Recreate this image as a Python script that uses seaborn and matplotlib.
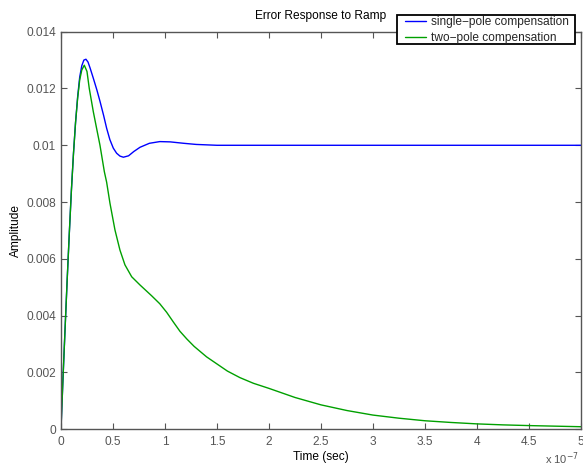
import matplotlib
matplotlib.use("Agg")
import matplotlib.pyplot as plt
from matplotlib.patches import Rectangle
import numpy as np
import pandas as pd
import seaborn as sns

# Time axis in units of 1e-7 s, amplitude in units of 1e-3
t_single = [0, 0.02, 0.04, 0.06, 0.08, 0.10, 0.12, 0.14, 0.16, 0.18, 0.20, 0.22,
            0.24, 0.26, 0.28, 0.311, 0.345, 0.375, 0.41, 0.439, 0.47, 0.503,
            0.535, 0.567, 0.60, 0.65, 0.70, 0.76, 0.85, 0.95, 1.05, 1.18, 1.30,
            1.50, 2.0, 2.5, 3.0, 3.5, 4.0, 4.5, 5.0]
y_single = [0, 1.85, 3.6, 5.3, 6.9, 8.4, 9.7, 10.8, 11.7, 12.4, 12.8, 13.0,
            13.03, 12.93, 12.72, 12.36, 11.95, 11.55, 11.05, 10.6, 10.2, 9.9,
            9.72, 9.62, 9.58, 9.63, 9.78, 9.93, 10.07, 10.13, 10.12, 10.07, 10.03,
            10.0, 10.0, 10.0, 10.0, 10.0, 10.0, 10.0, 10.0]

t_two = [0, 0.02, 0.04, 0.06, 0.08, 0.10, 0.12, 0.14, 0.16, 0.18, 0.20, 0.224,
         0.25, 0.272, 0.311, 0.345, 0.375, 0.417, 0.439, 0.471, 0.519, 0.567,
         0.615, 0.68, 0.76, 0.872, 0.95, 1.016, 1.08, 1.144, 1.21, 1.28, 1.40,
         1.50, 1.60, 1.72, 1.85, 2.0, 2.25, 2.5, 2.75, 3.0, 3.25, 3.5, 3.75,
         4.0, 4.25, 4.5, 4.75, 5.0]
y_two = [0, 1.85, 3.6, 5.3, 6.9, 8.4, 9.7, 10.8, 11.65, 12.3, 12.65, 12.82,
         12.6, 12.0, 11.18, 10.55, 10.0, 9.07, 8.7, 7.96, 7.02, 6.31,
         5.79, 5.37, 5.08, 4.7, 4.42, 4.12, 3.78, 3.45, 3.18, 2.92, 2.55,
         2.3, 2.05, 1.82, 1.62, 1.44, 1.12, 0.86, 0.66, 0.50, 0.39, 0.30, 0.24,
         0.19, 0.155, 0.13, 0.11, 0.09]

series_names = ["single\u2212pole compensation", "two\u2212pole compensation"]
series_colors = ["#0000ff", "#00a000"]

x_ticks = [0, 0.5, 1, 1.5, 2, 2.5, 3, 3.5, 4, 4.5, 5]
y_ticks = [0, 0.002, 0.004, 0.006, 0.008, 0.010, 0.012, 0.014]

df = pd.concat([
    pd.DataFrame({"t": t_single, "amp": np.array(y_single) * 1e-3,
                  "series": series_names[0]}),
    pd.DataFrame({"t": t_two, "amp": np.array(y_two) * 1e-3,
                  "series": series_names[1]}),
], ignore_index=True)

sns.set_theme(style="white")
plt.rcParams["font.family"] = ["Liberation Sans", "DejaVu Sans"]

W, H = 583, 466
fig = plt.figure(figsize=(W / 100, H / 100), dpi=100)
ax = fig.add_axes([0.1046, 0.0788, 0.8919, 0.8532])

sns.lineplot(data=df, x="t", y="amp", hue="series", hue_order=series_names,
             palette=series_colors, linewidth=1.0, ax=ax, sort=False,
             estimator=None)

ax.set_xlim(0, 5)
ax.set_ylim(0, 0.014)
ax.set_xticks(x_ticks)
ax.set_xticklabels([f"{v:g}" for v in x_ticks])
ax.set_yticks(y_ticks)
ax.set_yticklabels(["0" if v == 0 else f"{v:.3f}".rstrip("0") for v in y_ticks])

axis_gray = "#555555"
for sp in ax.spines.values():
    sp.set_color(axis_gray)
    sp.set_linewidth(1.0)
ax.tick_params(direction="in", length=4, width=0.8, color=axis_gray,
               labelcolor=axis_gray, labelsize=8.6, top=True, right=True,
               bottom=True, left=True, pad=3.5)
ax.tick_params(axis="x", pad=5)

ax.set_xlabel("Time (sec)", fontsize=8.6, color="black")
ax.xaxis.set_label_coords(0.5, -0.055)
ax.set_ylabel("Amplitude", fontsize=8.6, color="black")
ax.yaxis.set_label_coords(-0.075, 0.5)
ax.set_title("Error Response to Ramp", fontsize=8.6, color="black", pad=9)

fig.text(579 / W, 1 - 450 / H, r"x 10$^{-7}$", fontsize=8,
         color=axis_gray, ha="right", va="top")

# legend entries without frame, with a separate box drawn behind them
leg = ax.legend(loc="upper left", bbox_to_anchor=(404 / W, 1 - 15 / H),
                bbox_transform=fig.transFigure, fontsize=8.6, frameon=False,
                borderaxespad=0, handlelength=1.7, borderpad=0.1,
                labelspacing=0.3, handletextpad=0.45)
leg.set_zorder(6)
box = Rectangle((397 / W, 1 - 44 / H), 178 / W, 29 / H,
                transform=fig.transFigure, facecolor="white",
                edgecolor="black", linewidth=1.3, clip_on=False, zorder=5.5)
ax.add_patch(box)

fig.savefig("out.png", dpi=100)
